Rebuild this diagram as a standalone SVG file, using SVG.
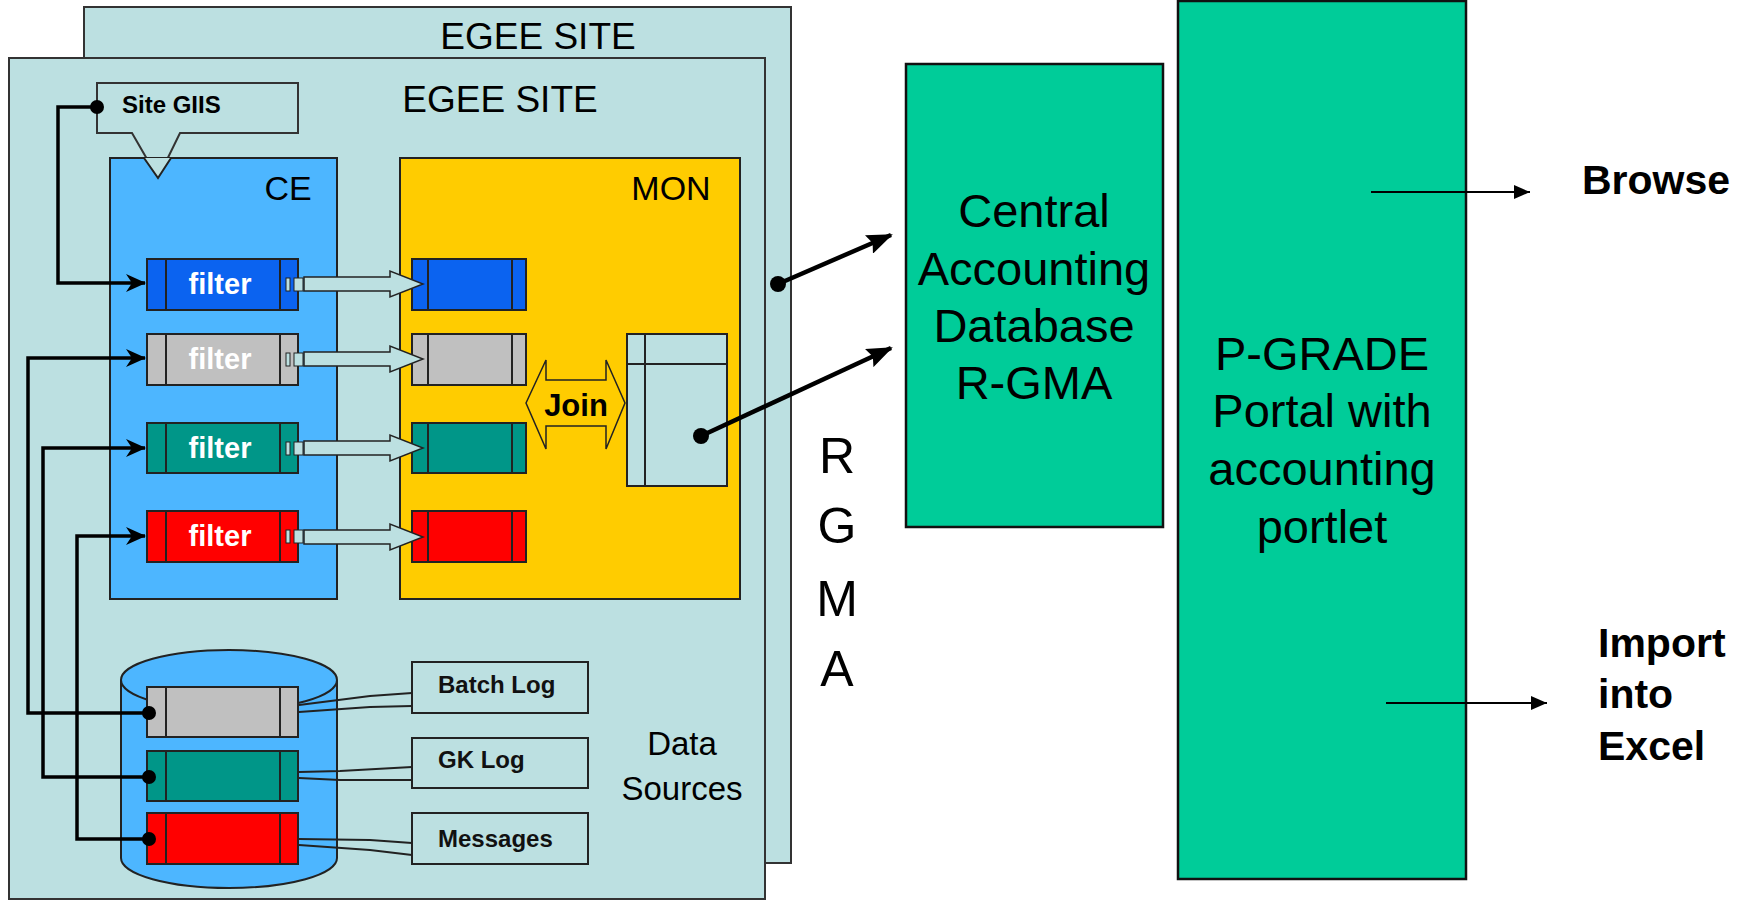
<svg xmlns="http://www.w3.org/2000/svg" width="1748" height="902" viewBox="0 0 1748 902">
<style>
.site{fill:#BCE0E1;stroke:#333;stroke-width:2}
.lbl{font-family:"Liberation Sans",Arial,sans-serif;fill:#000}
.big{font-family:"Liberation Sans",Arial,sans-serif;font-size:47px;fill:#000;text-anchor:middle}
.bold{font-family:"Liberation Sans",Arial,sans-serif;font-weight:bold;font-size:41px;fill:#000}
.box{stroke:#222;stroke-width:2}
.inner{stroke:#222;stroke-width:2}
.ftxt{font-family:"Liberation Sans",Arial,sans-serif;font-weight:bold;font-size:29px;fill:#fff;text-anchor:middle}
.wire{fill:none;stroke:#000;stroke-width:3.5}
.thick{fill:none;stroke:#000;stroke-width:4.5}
.thin{fill:none;stroke:#000;stroke-width:2}
.hollow{fill:#BCE0E1;stroke:#222;stroke-width:1.5}
.tube{fill:none;stroke:#222;stroke-width:2}
.dot{fill:#000}
.green{fill:#00CC99;stroke:#111;stroke-width:2.5}
.small{font-family:"Liberation Sans",Arial,sans-serif;font-weight:bold;font-size:24px;fill:#111}
</style>
<defs>
<marker id="barb" markerUnits="userSpaceOnUse" markerWidth="20" markerHeight="18" refX="19" refY="9" orient="auto">
<path d="M0,0 L20,9 L0,18 L6,9 Z" fill="#000"/>
</marker>
<marker id="bigarr" markerUnits="userSpaceOnUse" markerWidth="26" markerHeight="20" refX="24" refY="10" orient="auto">
<path d="M0,0 L26,10 L0,20 L4,10 Z" fill="#000"/>
</marker>
<marker id="tri" markerUnits="userSpaceOnUse" markerWidth="16" markerHeight="14" refX="16" refY="7" orient="auto">
<path d="M0,0 L16,7 L0,14 Z" fill="#000"/>
</marker>
</defs>
<rect width="1748" height="902" fill="#fff"/>

<g id="egee-site-back">
<rect class="site" x="84" y="7" width="707" height="856"/>
<text class="lbl" x="538" y="49" font-size="37" text-anchor="middle">EGEE SITE</text>
</g>
<g id="egee-site-front">
<rect class="site" x="9" y="58" width="756" height="841"/>
<text class="lbl" x="500" y="112" font-size="37" text-anchor="middle">EGEE SITE</text>
</g>

<g id="site-giis">
<polygon class="site" points="97,83 298,83 298,133 180,133 158,178 132,133 97,133"/>
<text class="lbl" x="122" y="113" font-size="24" font-weight="bold">Site GIIS</text>
</g>

<g id="ce">
<rect x="110" y="158" width="227" height="441" fill="#4DB6FF" stroke="#222" stroke-width="2"/>
<polyline points="144,158 158,178 171,158" fill="#BCE0E1" stroke="#222" stroke-width="2"/>
<text class="lbl" x="288" y="200" font-size="34" text-anchor="middle">CE</text>
</g>

<g id="mon">
<rect x="400" y="158" width="340" height="441" fill="#FFCC00" stroke="#222" stroke-width="2"/>
<text class="lbl" x="671" y="200" font-size="34" text-anchor="middle">MON</text>
</g>

<g id="filter-blue">
<rect class="box" x="147" y="259" width="151" height="51" fill="#0B63F0"/>
<line class="inner" x1="166" y1="259" x2="166" y2="310"/><line class="inner" x1="280" y1="259" x2="280" y2="310"/>
<text class="ftxt" x="220" y="294">filter</text>
<rect x="286" y="278" width="4" height="13" fill="#BCE0E1" stroke="#222" stroke-width="1"/>
<rect x="294" y="278" width="9" height="13" fill="#BCE0E1" stroke="#222" stroke-width="1"/>
</g>
<g id="filter-gray">
<rect class="box" x="147" y="334" width="151" height="51" fill="#C0C0C0"/>
<line class="inner" x1="166" y1="334" x2="166" y2="385"/><line class="inner" x1="280" y1="334" x2="280" y2="385"/>
<text class="ftxt" x="220" y="369">filter</text>
<rect x="286" y="353" width="4" height="13" fill="#BCE0E1" stroke="#222" stroke-width="1"/>
<rect x="294" y="353" width="9" height="13" fill="#BCE0E1" stroke="#222" stroke-width="1"/>
</g>
<g id="filter-teal">
<rect class="box" x="147" y="423" width="151" height="50" fill="#009688"/>
<line class="inner" x1="166" y1="423" x2="166" y2="473"/><line class="inner" x1="280" y1="423" x2="280" y2="473"/>
<text class="ftxt" x="220" y="458">filter</text>
<rect x="286" y="442" width="4" height="13" fill="#BCE0E1" stroke="#222" stroke-width="1"/>
<rect x="294" y="442" width="9" height="13" fill="#BCE0E1" stroke="#222" stroke-width="1"/>
</g>
<g id="filter-red">
<rect class="box" x="147" y="511" width="151" height="51" fill="#FF0000"/>
<line class="inner" x1="166" y1="511" x2="166" y2="562"/><line class="inner" x1="280" y1="511" x2="280" y2="562"/>
<text class="ftxt" x="220" y="546">filter</text>
<rect x="286" y="530" width="4" height="13" fill="#BCE0E1" stroke="#222" stroke-width="1"/>
<rect x="294" y="530" width="9" height="13" fill="#BCE0E1" stroke="#222" stroke-width="1"/>
</g>

<g id="mon-blue">
<rect class="box" x="412" y="259" width="114" height="51" fill="#0B63F0"/>
<line class="inner" x1="428" y1="259" x2="428" y2="310"/><line class="inner" x1="512" y1="259" x2="512" y2="310"/>
</g>
<g id="mon-gray">
<rect class="box" x="412" y="334" width="114" height="51" fill="#C0C0C0"/>
<line class="inner" x1="428" y1="334" x2="428" y2="385"/><line class="inner" x1="512" y1="334" x2="512" y2="385"/>
</g>
<g id="mon-teal">
<rect class="box" x="412" y="423" width="114" height="50" fill="#009688"/>
<line class="inner" x1="428" y1="423" x2="428" y2="473"/><line class="inner" x1="512" y1="423" x2="512" y2="473"/>
</g>
<g id="mon-red">
<rect class="box" x="412" y="511" width="114" height="51" fill="#FF0000"/>
<line class="inner" x1="428" y1="511" x2="428" y2="562"/><line class="inner" x1="512" y1="511" x2="512" y2="562"/>
</g>

<g id="join">
<path d="M526,403 L546,360 L546,380 L606,380 L606,360 L625,403 L606,449 L606,426 L546,426 L546,449 Z" fill="#FFCC00" stroke="#222" stroke-width="1.5"/>
<text class="lbl" x="576" y="416" font-size="31" font-weight="bold" text-anchor="middle">Join</text>
</g>

<g id="joined-table">
<rect x="627" y="334" width="100" height="152" fill="#BCE0E1" stroke="#222" stroke-width="2"/>
<line class="inner" x1="645" y1="334" x2="645" y2="486"/>
<line class="inner" x1="627" y1="364" x2="727" y2="364"/>
</g>

<g id="data-sources">
<path d="M121,680 A108,30 0 0 1 337,680 L337,858 A108,30 0 0 1 121,858 Z" fill="#4DB6FF" stroke="#222" stroke-width="2"/>
<path d="M121,680 A108,30 0 0 0 337,680" fill="none" stroke="#222" stroke-width="2"/>
<text class="lbl" x="682" y="755" font-size="33" text-anchor="middle">Data</text>
<text class="lbl" x="682" y="800" font-size="33" text-anchor="middle">Sources</text>
</g>
<g id="ds-batch">
<rect class="box" x="147" y="687" width="151" height="50" fill="#C0C0C0"/>
<line class="inner" x1="166" y1="687" x2="166" y2="737"/><line class="inner" x1="280" y1="687" x2="280" y2="737"/>
</g>
<g id="ds-gk">
<rect class="box" x="147" y="751" width="151" height="50" fill="#009688"/>
<line class="inner" x1="166" y1="751" x2="166" y2="801"/><line class="inner" x1="280" y1="751" x2="280" y2="801"/>
</g>
<g id="ds-messages">
<rect class="box" x="147" y="813" width="151" height="51" fill="#FF0000"/>
<line class="inner" x1="166" y1="813" x2="166" y2="864"/><line class="inner" x1="280" y1="813" x2="280" y2="864"/>
</g>

<g id="label-batch">
<rect x="412" y="662" width="176" height="51" fill="#BCE0E1" stroke="#222" stroke-width="2"/>
<text class="small" x="438" y="693">Batch Log</text>
</g>
<g id="label-gk">
<rect x="412" y="738" width="176" height="50" fill="#BCE0E1" stroke="#222" stroke-width="2"/>
<text class="small" x="438" y="768">GK Log</text>
</g>
<g id="label-messages">
<rect x="412" y="813" width="176" height="51" fill="#BCE0E1" stroke="#222" stroke-width="2"/>
<text class="small" x="438" y="847">Messages</text>
</g>

<g id="rgma">
<text class="lbl" x="837" y="473" font-size="50" fill="#222" text-anchor="middle">R</text>
<text class="lbl" x="837" y="543" font-size="50" fill="#222" text-anchor="middle">G</text>
<text class="lbl" x="837" y="616" font-size="50" fill="#222" text-anchor="middle">M</text>
<text class="lbl" x="837" y="686" font-size="50" fill="#222" text-anchor="middle">A</text>
</g>

<g id="central-db">
<rect class="green" x="906" y="64" width="257" height="463"/>
<text class="big" x="1034" y="227">Central</text>
<text class="big" x="1034" y="285">Accounting</text>
<text class="big" x="1034" y="342">Database</text>
<text class="big" x="1034" y="399">R-GMA</text>
</g>

<g id="pgrade-portal">
<rect class="green" x="1178" y="1" width="288" height="878"/>
<text class="big" x="1322" y="370">P-GRADE</text>
<text class="big" x="1322" y="427">Portal with</text>
<text class="big" x="1322" y="485">accounting</text>
<text class="big" x="1322" y="543">portlet</text>
</g>

<g id="browse">
<text class="bold" x="1582" y="194">Browse</text>
</g>
<g id="import-excel">
<text class="bold" x="1598" y="657">Import</text>
<text class="bold" x="1598" y="708">into</text>
<text class="bold" x="1598" y="760">Excel</text>
</g>

<g id="connectors">
<polyline class="wire" points="97,107 58,107 58,283 145,283" marker-end="url(#barb)"/>
<polyline class="wire" points="149,713 28,713 28,358 145,358" marker-end="url(#barb)"/>
<polyline class="wire" points="149,777 43,777 43,448 145,448" marker-end="url(#barb)"/>
<polyline class="wire" points="149,839 77,839 77,536 145,536" marker-end="url(#barb)"/>
<circle class="dot" cx="97" cy="107" r="7"/>
<circle class="dot" cx="149" cy="713" r="7"/>
<circle class="dot" cx="149" cy="777" r="7"/>
<circle class="dot" cx="149" cy="839" r="7"/>

<path class="hollow" d="M304,277 L390,277 L390,271 L423,284 L390,297 L390,291 L304,291 Z"/>
<path class="hollow" d="M304,352 L390,352 L390,346 L423,359 L390,372 L390,366 L304,366 Z"/>
<path class="hollow" d="M304,441 L390,441 L390,435 L423,448 L390,461 L390,455 L304,455 Z"/>
<path class="hollow" d="M304,530 L390,530 L390,524 L423,537 L390,550 L390,544 L304,544 Z"/>

<polyline class="tube" points="299,705 370,696 412,693"/>
<polyline class="tube" points="299,712 370,707 412,706"/>
<polyline class="tube" points="299,772 340,771 412,767"/>
<polyline class="tube" points="299,778 340,780 412,780"/>
<polyline class="tube" points="299,839 370,840 412,843"/>
<polyline class="tube" points="299,845 370,850 412,855"/>

<line class="thick" x1="778" y1="284" x2="891" y2="235" marker-end="url(#bigarr)"/>
<circle class="dot" cx="778" cy="284" r="8"/>
<line class="thick" x1="701" y1="436" x2="891" y2="348" marker-end="url(#bigarr)"/>
<circle class="dot" cx="701" cy="436" r="8"/>

<line class="thin" x1="1371" y1="192" x2="1530" y2="192" marker-end="url(#tri)"/>
<line class="thin" x1="1386" y1="703" x2="1547" y2="703" marker-end="url(#tri)"/>
</g>
</svg>
